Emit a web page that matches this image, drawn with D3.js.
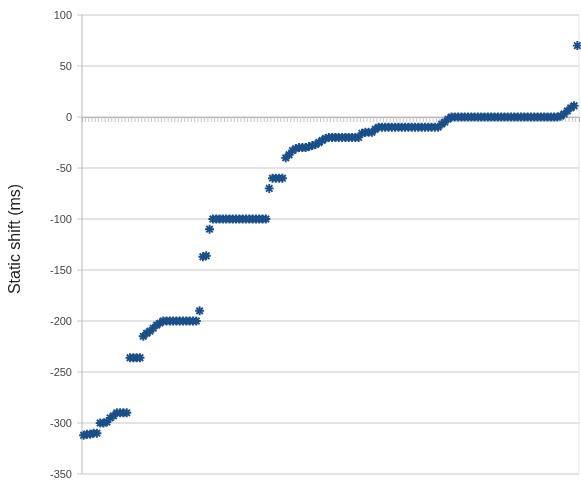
<!DOCTYPE html>
<html>
<head>
<meta charset="utf-8">
<script src="https://cdn.jsdelivr.net/npm/d3@7"></script>
<style>
  body { margin: 0; background: #fff; }
  svg { display: block; filter: blur(0.4px); }
</style>
</head>
<body>
<div id="chart"></div>
<script>
// static shift per station, sorted (ms)
const shifts = [
  -312, -311, -311, -310, -310,
  -300, -300, -299, -295, -293, -290, -290, -290, -290,
  -236, -236, -236, -236,
  -215, -212, -210, -207, -204, -202,
  -200, -200, -200, -200, -200, -200, -200, -200, -200, -200, -200,
  -190,
  -137, -136, -110,
  -100, -100, -100, -100, -100, -100, -100, -100, -100, -100, -100, -100, -100, -100, -100, -100, -100,
  -70,
  -60, -60, -60, -60,
  -40, -37, -33,
  -31, -30, -30, -30, -29, -28, -27,
  -25, -23, -21,
  -20, -20, -20, -20, -20, -20, -20, -20, -20, -20,
  -16, -15, -15, -15,
  -12,
  -10, -10, -10, -10, -10, -10, -10, -10, -10, -10, -10, -10, -10, -10, -10, -10, -10, -10, -10,
  -7, -5, -2,
  0, 0, 0, 0, 0, 0, 0, 0, 0, 0, 0, 0, 0, 0, 0, 0, 0, 0, 0, 0, 0, 0, 0, 0, 0, 0, 0, 0, 0, 0, 0, 0, 0,
  1, 3, 6, 9, 11,
  70
];
const yTicks = [100, 50, 0, -50, -100, -150, -200, -250, -300, -350];
const yTitle = "Static shift (ms)";

const width = 581, height = 483;
const plotLeft = 82, plotRight = 579, plotTop = 15, plotBottom = 474;

const svg = d3.select("#chart")
  .append("svg")
  .attr("width", width)
  .attr("height", height);

const x = d3.scaleBand()
  .domain(d3.range(shifts.length))
  .range([plotLeft, plotRight])
  .padding(0);

const y = d3.scaleLinear()
  .domain([-350, 100])
  .range([plotBottom, plotTop]);

// horizontal grid lines
svg.append("g")
  .selectAll("line")
  .data(yTicks).enter()
  .append("line")
  .attr("x1", plotLeft - 5)
  .attr("x2", plotRight)
  .attr("y1", d => y(d))
  .attr("y2", d => y(d))
  .attr("stroke", "#c8c8c8")
  .attr("stroke-width", 1);

// y axis line
svg.append("line")
  .attr("x1", plotLeft).attr("x2", plotLeft)
  .attr("y1", plotTop).attr("y2", plotBottom)
  .attr("stroke", "#b8b8b8");

// faint right edge
svg.append("line")
  .attr("x1", plotRight).attr("x2", plotRight)
  .attr("y1", plotTop).attr("y2", plotBottom)
  .attr("stroke", "#e4e4e4");

// y tick labels
svg.append("g")
  .selectAll("text")
  .data(yTicks).enter()
  .append("text")
  .attr("x", plotLeft - 10)
  .attr("y", d => y(d))
  .attr("dy", "0.35em")
  .attr("text-anchor", "end")
  .attr("font-family", "Liberation Sans, Arial, sans-serif")
  .attr("font-size", 11)
  .attr("fill", "#444")
  .text(d => d);

// category axis at zero, with small tick marks
svg.append("g")
  .attr("transform", `translate(0,${y(0)})`)
  .call(d3.axisBottom(x).tickSize(5).tickFormat(""))
  .call(g => g.select(".domain").attr("stroke", "#b0b0b0"))
  .call(g => g.selectAll(".tick line")
    .attr("stroke", "#c4c4c4")
    .attr("transform", `translate(${-x.bandwidth() / 2},0)`));

// asterisk markers
const r = 4.5;
const star = `M${-r},0L${r},0M0,${-r}L0,${r}` +
  `M${-r * 0.72},${-r * 0.72}L${r * 0.72},${r * 0.72}` +
  `M${-r * 0.72},${r * 0.72}L${r * 0.72},${-r * 0.72}`;

svg.append("g")
  .selectAll("path")
  .data(shifts).enter()
  .append("path")
  .attr("transform", (d, i) => `translate(${x(i) + x.bandwidth() / 2},${y(d)})`)
  .attr("d", star)
  .attr("fill", "none")
  .attr("stroke", "#1a4f8a")
  .attr("stroke-width", 1.9);

// axis title
svg.append("text")
  .attr("transform", "rotate(-90)")
  .attr("x", -239)
  .attr("y", 20)
  .attr("text-anchor", "middle")
  .attr("font-family", "Liberation Sans, Arial, sans-serif")
  .attr("font-size", 16)
  .attr("fill", "#222")
  .text(yTitle);
</script>
</body>
</html>
